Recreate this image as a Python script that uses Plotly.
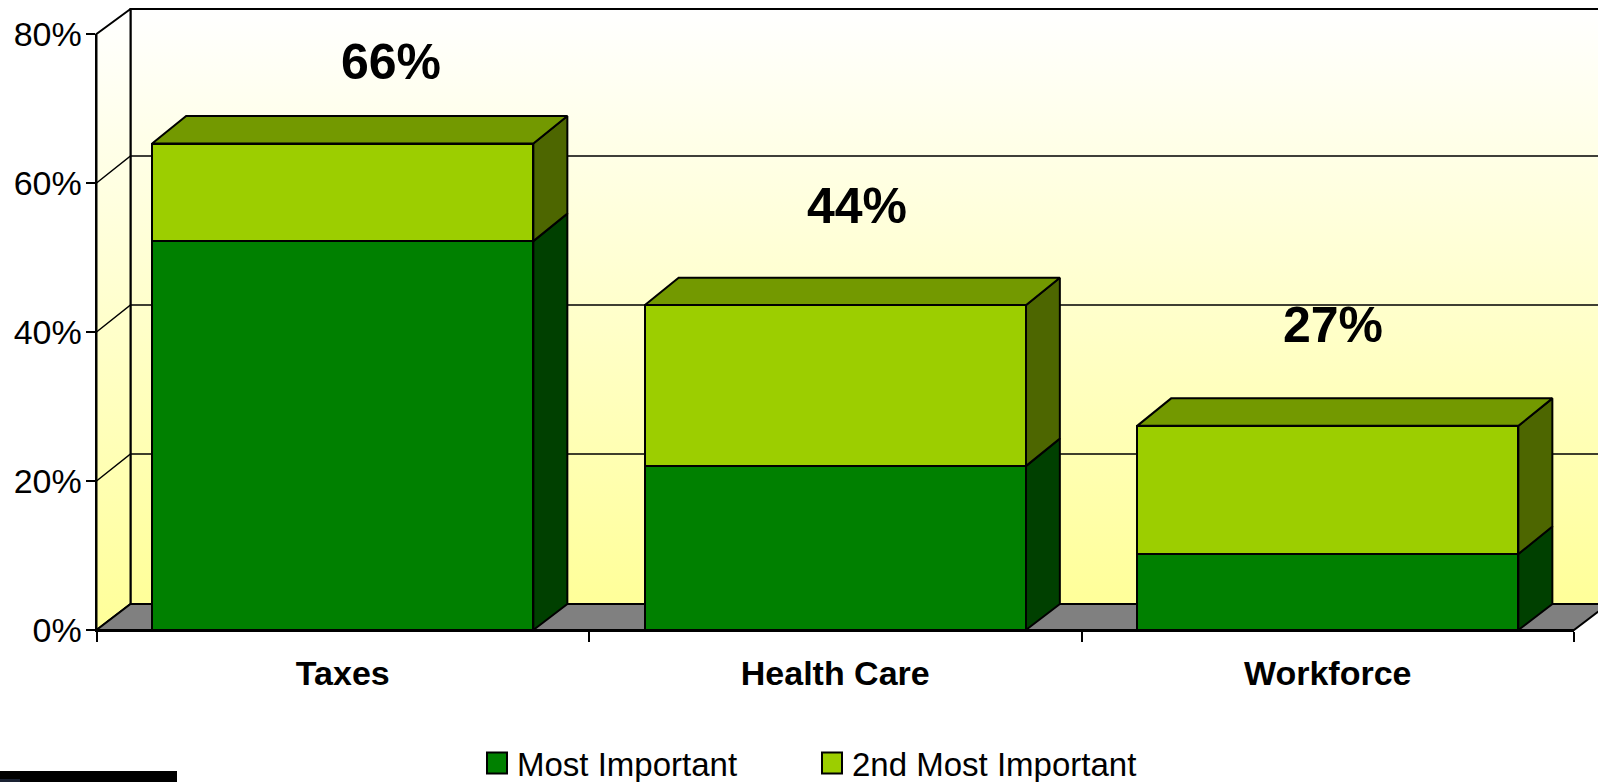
import plotly.graph_objects as go

categories = ["Taxes", "Health Care", "Workforce"]
most_important = [52.2, 22.0, 10.2]
second_important = [13.1, 21.6, 17.2]
total_labels = ["66%", "44%", "27%"]
label_heights = [76.2, 56.9, 41.0]
y_ticks = [0, 20, 40, 60, 80]
y_tick_labels = ["0%", "20%", "40%", "60%", "80%"]

W, H = 1598, 782
X0, X1 = 96.5, 1574.0
Y0, Y80 = 630.0, 34.0
BAR_W = 0.774
px_x = (X1 - X0) / 3
px_y = (Y0 - Y80) / 80
DX = 34 / px_x
FLOOR_DY = 26 / px_y
GRID_DY = 27 / px_y
TOP_DY = 25 / px_y
BAR_DY = 27.5 / px_y
L, R = -0.5, 2.5
BACK_R = R + DX
TOP = 80 + TOP_DY
LINE = dict(color="black", width=2)

fig = go.Figure()
wall_grad = dict(type="vertical", colorscale=[[0, "#FFFF99"], [1, "#FFFFFF"]])


def poly(xs, ys, fill=None, grad=None):
    kw = dict(fillgradient=grad) if grad else dict(fillcolor=fill)
    fig.add_trace(go.Scatter(x=xs, y=ys, mode="lines", fill="toself", line=LINE,
                             hoverinfo="skip", showlegend=False, **kw))


def wire(xs, ys, width=2):
    fig.add_trace(go.Scatter(x=xs, y=ys, mode="lines", line=dict(color="black", width=width),
                             hoverinfo="skip", showlegend=False))


# walls and floor on full-canvas base axes
poly([L + DX, BACK_R, BACK_R, L + DX, L + DX], [FLOOR_DY, FLOOR_DY, TOP, TOP, FLOOR_DY], grad=wall_grad)
poly([L, L + DX, L + DX, L, L], [0, FLOOR_DY, TOP, 80, 0], grad=wall_grad)
poly([L, L + DX, BACK_R, R, L], [0, FLOOR_DY, FLOOR_DY, 0, 0], "#808080")
for v in y_ticks[1:-1]:
    wire([L, L + DX, BACK_R], [v, v + GRID_DY, v + GRID_DY], 1.5)

# depth faces, derived from the values
for i, (a, b) in enumerate(zip(most_important, second_important)):
    left, right = i - BAR_W / 2, i + BAR_W / 2
    total = a + b
    poly([right, right + DX, right + DX, right, right], [0, FLOOR_DY, a + BAR_DY, a, 0], "#004000")
    poly([right, right + DX, right + DX, right, right], [a, a + BAR_DY, total + BAR_DY, total, a], "#4D6600")
    poly([left, left + DX, right + DX, right, left], [total, total + BAR_DY, total + BAR_DY, total, total], "#739900")

# front faces, real stacked bars on the overlay axes
fig.add_trace(go.Bar(x=categories, y=most_important, name="Most Important", width=BAR_W,
                     marker=dict(color="#008000", line=LINE), xaxis="x2", yaxis="y2"))
fig.add_trace(go.Bar(x=categories, y=second_important, name="2nd Most Important", width=BAR_W,
                     marker=dict(color="#9CCE00", line=LINE), xaxis="x2", yaxis="y2"))

annotations = [
    dict(x=i + off, y=y, xref="x", yref="y", text=t, showarrow=False,
         font=dict(family="Liberation Sans", size=50, color="black", weight="bold"))
    for i, (t, y, off) in enumerate(zip(total_labels, label_heights, (0.098, 0.044, 0.01)))
]

dom_x = [X0 / W, X1 / W]
dom_y = [1 - Y0 / H, 1 - Y80 / H]
fig.update_layout(
    width=W, height=H, margin=dict(l=0, r=0, t=0, b=0, autoexpand=False),
    paper_bgcolor="white", plot_bgcolor="rgba(0,0,0,0)",
    barmode="stack", annotations=annotations,
    font=dict(family="Liberation Sans", color="black"),
    xaxis=dict(domain=[0, 1], range=[L - X0 / px_x, L + (W - X0) / px_x], visible=False),
    yaxis=dict(domain=[0, 1], range=[-(H - Y0) / px_y, Y0 / px_y], visible=False),
    xaxis2=dict(domain=dom_x, anchor="y2", type="category", categoryorder="array",
                categoryarray=categories, range=[L, R], tickson="boundaries",
                ticks="outside", ticklen=10, tickwidth=2, tickcolor="black",
                showline=True, linecolor="black", linewidth=2, showgrid=False,
                ticklabelstandoff=12,
                tickfont=dict(family="Liberation Sans", size=34, color="black", weight="bold")),
    yaxis2=dict(domain=dom_y, anchor="x2", range=[0, 80], tickvals=y_ticks,
                ticktext=y_tick_labels, ticks="outside", ticklen=9, tickwidth=2,
                tickcolor="black", showline=True, linecolor="black", linewidth=2,
                showgrid=False, zeroline=False, ticklabelstandoff=-3,
                tickfont=dict(family="Liberation Sans", size=34, color="black")),
    legend=dict(orientation="h", x=477 / W, xanchor="left", y=1 - 763 / H, yanchor="middle",
                font=dict(family="Liberation Sans", size=33, color="black"),
                itemwidth=30, entrywidth=290, entrywidthmode="pixels",
                bgcolor="rgba(0,0,0,0)", traceorder="normal"),
    shapes=[
        dict(type="rect", xref="paper", yref="paper", x0=0, x1=177 / W,
             y0=0, y1=(H - 771) / H, fillcolor="#000000", line=dict(width=0)),
        dict(type="rect", xref="paper", yref="paper", x0=0, x1=20 / W,
             y0=0, y1=3 / H, fillcolor="#1A2233", line=dict(width=0)),
    ],
)
post = """
document.body.style.margin='0';document.body.style.overflow='hidden';
function bigSwatches(){document.querySelectorAll('.legend .legendpoints path').forEach(function(p){
  p.setAttribute('d','M10,10.5H-10V-10.5H10Z');});}
bigSwatches();setTimeout(bigSwatches,50);setTimeout(bigSwatches,400);
"""
fig.write_html("out.html", config={"displayModeBar": False}, post_script=post)
